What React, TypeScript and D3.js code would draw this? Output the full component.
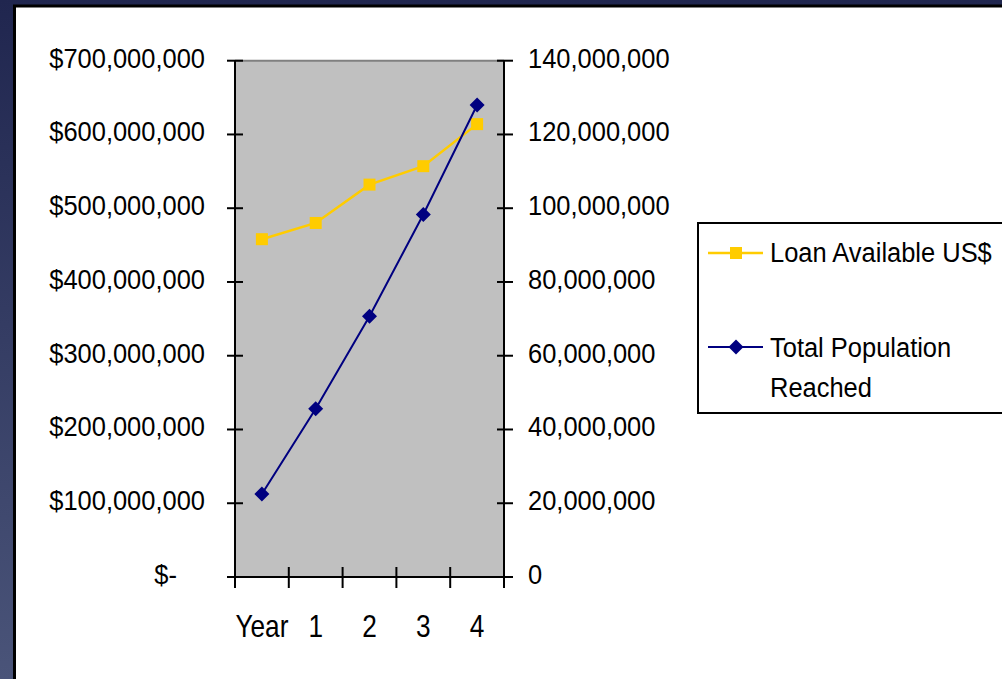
import React from "react";
import * as d3 from "d3";

const categories = ["Year", "1", "2", "3", "4"];
const loanAvailable = [458000000, 480000000, 532000000, 557000000, 614000000];
const populationReached = [22500000, 45600000, 70700000, 98300000, 128000000];
const leftTicks = [0, 100000000, 200000000, 300000000, 400000000, 500000000, 600000000, 700000000];
const rightTicks = [0, 20000000, 40000000, 60000000, 80000000, 100000000, 120000000, 140000000];
const seriesNames = ["Loan Available US$", "Total Population", "Reached"];

const W = 1002;
const H = 679;
const plot = { left: 235, right: 504, top: 60.7, bottom: 577 };
const YELLOW = "#FFCC00";
const NAVY = "#000080";
const FONT = "'Liberation Sans', Arial, sans-serif";
const SX = 0.91;

function T({ x, y, children, size = 28, anchor = "start", sx = SX }: any) {
  return (
    <text
      transform={`translate(${x},${y}) scale(${sx},1)`}
      fontSize={size}
      fontFamily={FONT}
      textAnchor={anchor}
      fill="#000"
    >
      {children}
    </text>
  );
}

function Diamond({ cx, cy, r = 7.5 }: any) {
  return (
    <path
      d={`M${cx},${cy - r}L${cx + r},${cy}L${cx},${cy + r}L${cx - r},${cy}Z`}
      fill={NAVY}
    />
  );
}

export default function App() {
  const x = d3.scaleBand<string>().domain(categories).range([plot.left, plot.right]);
  const yL = d3.scaleLinear().domain([0, 700000000]).range([plot.bottom, plot.top]);
  const yR = d3.scaleLinear().domain([0, 140000000]).range([plot.bottom, plot.top]);
  const cx = (c: string) => (x(c) as number) + x.bandwidth() / 2;

  const loanLine = d3
    .line<number>()
    .x((_, i) => cx(categories[i]))
    .y((d) => yL(d));
  const popLine = d3
    .line<number>()
    .x((_, i) => cx(categories[i]))
    .y((d) => yR(d));

  const fmtL = (v: number) => (v === 0 ? "$-" : "$" + d3.format(",")(v));
  const fmtR = d3.format(",");
  const boundaries = [...categories.map((c) => x(c) as number), plot.right];

  return (
    <svg
      width={W}
      height={H}
      style={{ position: "absolute", left: 0, top: 0, display: "block" }}
    >
      <defs>
        <linearGradient id="bg" x1="0" y1="0" x2="0" y2="1">
          <stop offset="0" stopColor="#20264f" />
          <stop offset="1" stopColor="#4a5479" />
        </linearGradient>
      </defs>
      <rect x={0} y={0} width={W} height={H} fill="url(#bg)" />
      <rect x={14.5} y={6} width={W + 20} height={H + 20} fill="#fff" stroke="#000" strokeWidth={3} />

      {/* plot area */}
      <rect
        x={plot.left}
        y={plot.top}
        width={plot.right - plot.left}
        height={plot.bottom - plot.top}
        fill="#C0C0C0"
      />
      <line x1={plot.left} x2={plot.right} y1={plot.top} y2={plot.top} stroke="#808080" strokeWidth={2} />

      {/* left axis */}
      <line x1={plot.left} x2={plot.left} y1={plot.top} y2={plot.bottom} stroke="#000" strokeWidth={2} />
      {leftTicks.map((t) => (
        <g key={"l" + t}>
          <line x1={plot.left - 8} x2={plot.left + 8} y1={yL(t)} y2={yL(t)} stroke="#000" strokeWidth={2} />
          <T x={t === 0 ? 177 : 205} y={yL(t) + 7} anchor="end">
            {fmtL(t)}
          </T>
        </g>
      ))}

      {/* right axis */}
      <line x1={plot.right} x2={plot.right} y1={plot.top} y2={plot.bottom} stroke="#000" strokeWidth={2} />
      {rightTicks.map((t) => (
        <g key={"r" + t}>
          <line x1={plot.right - 7} x2={plot.right + 9} y1={yR(t)} y2={yR(t)} stroke="#000" strokeWidth={2} />
          <T x={528} y={yR(t) + 7}>
            {fmtR(t)}
          </T>
        </g>
      ))}

      {/* bottom axis */}
      <line x1={plot.left - 8} x2={plot.right + 8} y1={plot.bottom} y2={plot.bottom} stroke="#000" strokeWidth={2} />
      {boundaries.map((b, i) => (
        <line key={"b" + i} x1={b} x2={b} y1={plot.bottom - 10} y2={plot.bottom + 11} stroke="#000" strokeWidth={2} />
      ))}
      {categories.map((c) => (
        <T key={"c" + c} x={cx(c)} y={637} size={32} sx={0.82} anchor="middle">
          {c}
        </T>
      ))}

      {/* series */}
      <path d={loanLine(loanAvailable) as string} fill="none" stroke={YELLOW} strokeWidth={2.5} />
      {loanAvailable.map((v, i) => (
        <rect key={"ls" + i} x={cx(categories[i]) - 6} y={yL(v) - 6} width={12} height={12} fill={YELLOW} />
      ))}
      <path d={popLine(populationReached) as string} fill="none" stroke={NAVY} strokeWidth={2} />
      {populationReached.map((v, i) => (
        <Diamond key={"pd" + i} cx={cx(categories[i])} cy={yR(v)} />
      ))}

      {/* legend */}
      <rect x={698} y={223} width={400} height={190} fill="#fff" stroke="#000" strokeWidth={2} />
      <line x1={708} x2={763} y1={253} y2={253} stroke={YELLOW} strokeWidth={2.5} />
      <rect x={736 - 6} y={253 - 6} width={12} height={12} fill={YELLOW} />
      <T x={770} y={262}>{seriesNames[0]}</T>
      <line x1={708} x2={763} y1={347} y2={347} stroke={NAVY} strokeWidth={2} />
      <Diamond cx={736} cy={347} />
      <T x={770} y={357}>{seriesNames[1]}</T>
      <T x={770} y={397}>{seriesNames[2]}</T>
    </svg>
  );
}
